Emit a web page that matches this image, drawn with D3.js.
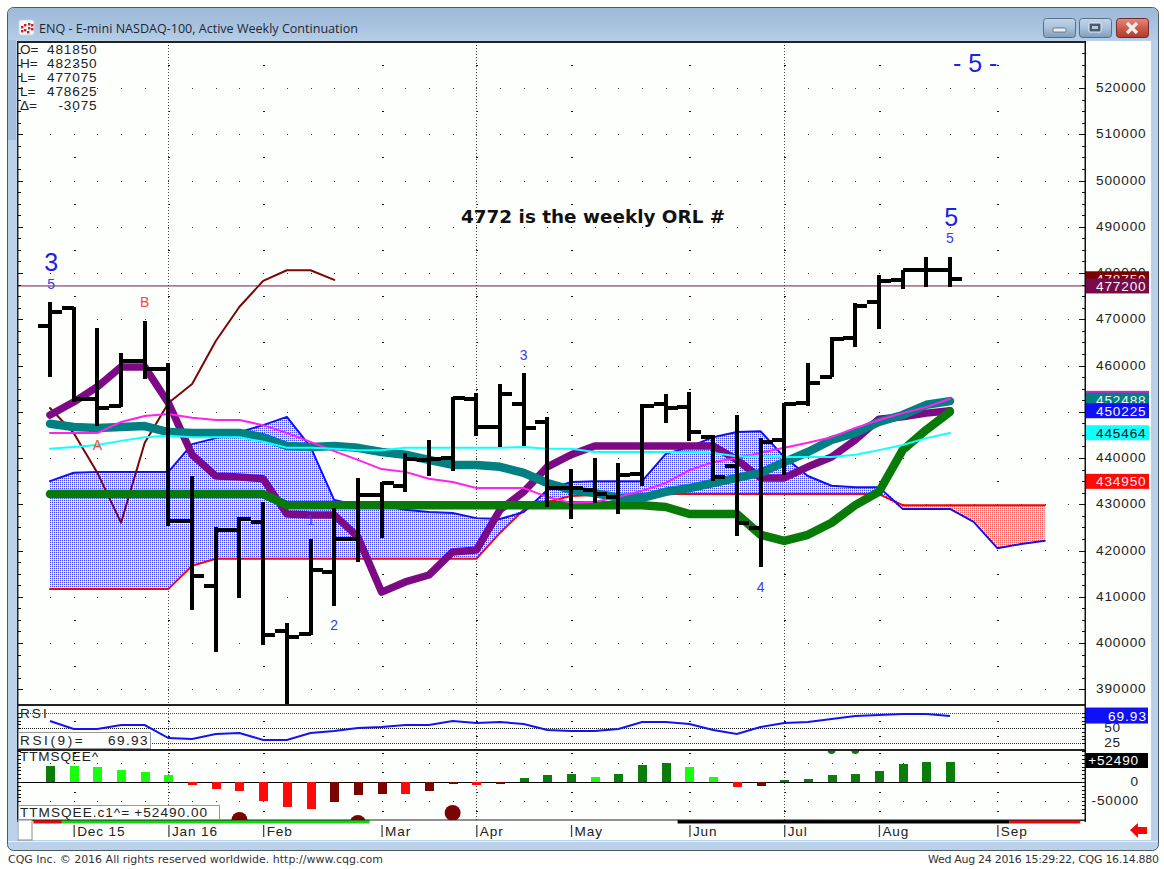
<!DOCTYPE html>
<html><head><meta charset="utf-8">
<script src="https://cdn.jsdelivr.net/npm/d3@7/dist/d3.min.js"></script>
<style>html,body{margin:0;padding:0;background:#fff;overflow:hidden}svg{display:block}
text{font-family:"Liberation Sans",Arial,sans-serif}</style></head><body>
<svg id="c" width="1164" height="869"></svg>
<script>
// ---------- data (prices in index points; quoted price = points x 100) ----------
const opens =[4685,4724,4528,4512,4610,4592,4264,4123,4244,4262,4026,4020,4154,4225,4320,4340,4396,4400,4528,4467,4517,4478,4335,4331,4316,4365,4517,4510,4445,4383,4249,4439,4519,4575,4660,4737,4785,4806,4806];
const highs =[4737,4727,4681,4627,4696,4605,4361,4251,4272,4305,4043,4225,4292,4357,4348,4411,4439,4532,4541,4560,4584,4489,4376,4400,4389,4517,4538,4543,4450,4493,4443,4519,4605,4662,4735,4796,4806,4835,4835];
const lows  =[4575,4521,4469,4510,4571,4253,4071,3981,4097,3996,3860,4017,4080,4175,4227,4327,4361,4372,4448,4424,4426,4294,4268,4303,4279,4340,4476,4437,4350,4231,4164,4363,4512,4575,4640,4679,4765,4770,4770];
const closes=[4716,4528,4508,4610,4592,4264,4145,4244,4268,4017,4013,4158,4225,4320,4346,4398,4398,4530,4467,4538,4465,4335,4335,4322,4363,4512,4508,4456,4359,4260,4435,4517,4562,4657,4729,4783,4806,4806,4787];
const purpleMA=[4493,4521,4554,4597,4597,4519,4407,4361,4359,4355,4279,4277,4277,4229,4110,4132,4147,4197,4201,4288,4327,4381,4407,4426,4426,4426,4426,4426,4426,4396,4357,4357,4381,4402,4439,4484,4489,4497,4502];
const tealMA=[4474,4467,4465,4467,4469,4456,4454,4454,4454,4445,4426,4424,4426,4422,4413,4407,4396,4385,4385,4381,4368,4346,4331,4324,4314,4314,4327,4335,4346,4357,4368,4391,4413,4439,4454,4478,4493,4515,4523];
const magentaMA=[4454,4454,4454,4478,4491,4495,4487,4482,4482,4471,4454,4435,4415,4396,4376,4370,4355,4348,4335,4335,4335,4316,4303,4305,4316,4329,4346,4374,4391,4400,4411,4422,4433,4445,4465,4482,4497,4510,4528];
const cyanMA=[4420,4424,4428,4437,4445,4448,4445,4445,4445,4435,4422,4422,4420,4417,4417,4422,4422,4422,4422,4422,4424,4420,4420,4413,4413,4413,4413,4413,4411,4404,4404,4402,4402,4402,4407,4417,4428,4443,4454];
const greenMA=[4322,4322,4322,4322,4322,4322,4322,4322,4322,4322,4298,4298,4298,4298,4298,4298,4298,4298,4298,4298,4298,4298,4298,4298,4298,4298,4294,4279,4279,4279,4234,4221,4234,4260,4298,4327,4417,4461,4500];
const spanBlue=[4350,4368,4370,4370,4370,4370,4430,4443,4456,4471,4489,4424,4309,4298,4298,4288,4283,4281,4270,4268,4283,4331,4348,4350,4350,4350,4409,4424,4445,4456,4458,4402,4361,4340,4337,4337,4290,4290,4290,4262,4205,4214,4221];
const spanRed=[4117,4117,4117,4117,4117,4117,4167,4182,4182,4182,4182,4182,4182,4182,4182,4182,4182,4182,4182,4238,4288,4305,4318,4320,4320,4322,4322,4322,4322,4322,4322,4322,4322,4322,4322,4322,4298,4298,4298,4298,4298,4298,4298];
const maroonLine=[4508,4454,4368,4260,4433,4519,4560,4653,4727,4783,4806,4806,4785];
const orlLevel=4772;
const rsi=[61.7,48.3,48.3,55,55,33.3,31.7,40,41.7,30,30,41.7,45,50,51.7,55,55,61.7,58.3,60,56.7,46.7,45,45,48.3,60,60,56.7,46.7,40,51.7,58.3,60,65,70,71.7,73.3,73.3,69.93];
const ttm=[40500,40500,38000,32000,26000,18000,-7000,-18000,-23300,-48000,-64600,-70000,-51700,-34500,-32000,-32000,-24000,-4300,-7700,-4300,9500,18000,21500,13000,21500,43000,49000,38000,13000,-13000,-10300,4300,7000,18000,20700,29200,46500,51700,52490];
const ttmState=[0,1,1,1,1,1,2,2,2,2,2,2,3,3,3,2,3,3,2,3,0,0,0,1,0,0,0,1,1,2,3,0,0,0,0,0,0,0,0];
const squeezeIdxRed=[8,13,17], squeezeValRed=[-98000,-106000,-80000];
const squeezeIdxGreen=[33,34], squeezeValGreen=[82700,82700];
const priceTicks=[5200,5100,5000,4900,4800,4700,4600,4500,4400,4300,4200,4100,4000,3900];
const monthIdx=[1,5,9,14,18,22,27,31,35,40];
const monthNames=["Dec 15","Jan 16","Feb","Mar","Apr","May","Jun","Jul","Aug","Sep"];
const quarterIdx=[5,18,31];
const readoutLabels=["O=","H=","L=","L=","Δ="];
const readoutValues=["481850","482350","477075","478625","-3075"];
const tagValues=[4787.5,4772,4529,4524.88,4502.25,4454.64,4349.5];
const tagText=["478750","477200","","452488","450225","445464","434950"];
const stripEdges=[-0.7,0.5,13.5,26.5,40.5,43.5];
const stripKinds=[0,1,2,3,0];
const bigText=["3","5","- 5 -"], bigIdx=[0.05,38.05,39.06], bigPrice=[4804,4902,5235];
const waveText=["5","5","2","1","3","4"], waveIdx=[0.05,38,12,11,20,30], wavePrice=[4765,4865,4028,4255,4612,4110];
const abText=["A","B"], abIdx=[2,4], abPrice=[4417,4727];
const noteText="4772 is the weekly ORL #", noteIdx=22.93, notePrice=4908;
const titleText="ENQ - E-mini NASDAQ-100, Active Weekly Continuation";
const footLeft="CQG Inc. © 2016 All rights reserved worldwide. http://www.cqg.com";
const footRight="Wed Aug 24 2016 15:29:22, CQG 16.14.880";

// ---------- layout & scales ----------
const L=18,R=1085,mainTop=42,mainBot=704,rsiTop=705,rsiBot=749,ttmTop=750,ttmBot=820;
const x=d3.scaleLinear().domain([0,38]).range([50,950]);
const y=d3.scaleLinear().domain([5200,3900]).range([88,689.25]);
const yR=d3.scaleLinear().domain([75,25]).range([713,743]);
const yT=d3.scaleLinear().domain([0,52490]).range([782,761.7]);
const allIdx=d3.range(0,44);
const svg=d3.select("#c");
const defs=svg.append("defs");
function grad(id,stops){const g=defs.append("linearGradient").attr("id",id).attr("x1",0).attr("y1",0).attr("x2",0).attr("y2",1);
 stops.forEach(s=>g.append("stop").attr("offset",s[0]).attr("stop-color",s[1]));}
grad("title",[[0,"#9db9d6"],[0.6,"#a9c4e0"],[1,"#b5cde6"]]);
grad("btn",[[0,"#c3d6ea"],[0.5,"#a8c0da"],[1,"#7f9dbc"]]);
grad("cls",[[0,"#e58a7c"],[0.5,"#cc5b4b"],[1,"#b03a2c"]]);
function hatch(id,a,b){const p=defs.append("pattern").attr("id",id).attr("patternUnits","userSpaceOnUse").attr("width",2).attr("height",2);
 p.append("rect").attr("width",2).attr("height",2).attr("fill","#fff");
 p.append("rect").attr("x",1).attr("y",0).attr("width",1).attr("height",1).attr("fill",b);
 p.append("rect").attr("x",0).attr("y",1).attr("width",1).attr("height",1).attr("fill",b);
 p.append("rect").attr("x",0).attr("y",0).attr("width",1).attr("height",1).attr("fill",a);}
hatch("hb","#4646ff","#d8d8ff");hatch("hr","#ff5a5a","#ffdcdc");
function clip(id,a,b){defs.append("clipPath").attr("id",id).append("rect").attr("x",L).attr("y",a).attr("width",R-L).attr("height",b-a);}
clip("cm",mainTop,mainBot);clip("cr",rsiTop,rsiBot);clip("ct",ttmTop,ttmBot);

// ---------- window chrome ----------
svg.append("rect").attr("x",7.5).attr("y",7.5).attr("width",1151).attr("height",843).attr("rx",6).attr("fill","#b9d2ea").attr("stroke","#4a5a60");
svg.append("path").attr("d","M8,40V14a6,6 0 0 1 6,-6H1152a6,6 0 0 1 6,6V40Z").attr("fill","url(#title)");
svg.append("rect").attr("x",8).attr("y",40).attr("width",8).attr("height",100).attr("fill","#a3bfdc");
svg.append("rect").attr("x",17).attr("y",41).attr("width",1134).attr("height",799).attr("fill","#fdfffd");
// icon
svg.append("rect").attr("x",19).attr("y",20).attr("width",15).attr("height",15).attr("rx",2).attr("fill","#fbf6f6").attr("stroke","#c9d3de");
[[21,26],[24,24],[24,29],[28,23],[28,27],[31,24],[31,28],[21,30],[27,31]].forEach(p=>svg.append("rect").attr("x",p[0]).attr("y",p[1]).attr("width",2.4).attr("height",2.4).attr("fill","#c2202c"));
svg.append("text").attr("x",39).attr("y",33).attr("font-size",12.55).attr("fill","#1d2733").style("font-family","'Open Sans'").text(titleText);
// buttons
[[1043,"btn"],[1079,"btn"],[1116,"cls"]].forEach(b=>svg.append("rect").attr("x",b[0]+.5).attr("y",18.5).attr("width",32).attr("height",19).attr("rx",3).attr("fill",`url(#${b[1]})`).attr("stroke",b[1]=="cls"?"#6d2a2a":"#56708c"));
svg.append("rect").attr("x",1053).attr("y",28).attr("width",13).attr("height",4).attr("rx",1).attr("fill","#e8edf3").attr("stroke","#4a5a6e").attr("stroke-width",.7);
svg.append("rect").attr("x",1089).attr("y",23).attr("width",12).attr("height",9).attr("rx",1).attr("fill","#4a5a6e").attr("stroke","#e8edf3");
svg.append("rect").attr("x",1092).attr("y",26).attr("width",6).attr("height",3).attr("fill","#b6c8dc");
svg.append("path").attr("d","M1127,23L1137,33M1137,23L1127,33").attr("stroke","#f2ecec").attr("stroke-width",3.4);

// ---------- grid ----------
const grid=svg.append("g");
function dotRows(vals,scale,idx,w,col){vals.forEach(v=>idx.forEach(i=>grid.append("rect").attr("x",Math.round(x(i))).attr("y",Math.round(scale(v))).attr("width",w).attr("height",1).attr("fill",col)));}
dotRows(priceTicks,y,allIdx,1,"#333");
dotRows([5250,5150,5050,4950,4850,4750,4650,4550,4450,4350,4250,4150,4050,3950],y,monthIdx,2,"#111");
dotRows([62.5,37.5],yR,monthIdx,2,"#111");
dotRows([50000,-50000],yT,allIdx,1,"#333");
dotRows([75000,25000,-25000,-75000],yT,monthIdx,2,"#111");
quarterIdx.forEach(i=>grid.append("line").attr("x1",Math.round(x(i))+.5).attr("x2",Math.round(x(i))+.5).attr("y1",mainTop).attr("y2",ttmBot).attr("stroke","#444").attr("stroke-dasharray","1 2"));

// ---------- main pane ----------
const main=svg.append("g").attr("clip-path","url(#cm)");
const ln=d3.line().x((d,i)=>x(i)).y(d=>y(d));
const pts=spanBlue.map((b,i)=>({b,r:spanRed[i],i}));
const aBlue=d3.area().x(d=>x(d.i)).y0(d=>y(d.r)).y1(d=>y(Math.max(d.b,d.r)));
const aRed=d3.area().x(d=>x(d.i)).y0(d=>y(d.r)).y1(d=>y(Math.min(d.b,d.r)));
main.append("path").attr("d",aBlue(pts)).attr("fill","url(#hb)");
main.append("path").attr("d",aRed(pts)).attr("fill","url(#hr)");
function stroke(data,col,w){main.append("path").attr("d",ln(data)).attr("fill","none").attr("stroke",col).attr("stroke-width",w).attr("stroke-linejoin","round").attr("stroke-linecap","round");}
main.append("line").attr("x1",L).attr("x2",R).attr("y1",y(orlLevel)).attr("y2",y(orlLevel)).attr("stroke","#7a1846").attr("stroke-width",1);
stroke(spanRed,"#f00808",2);
stroke(spanBlue,"#1010f0",2);
stroke(maroonLine,"#7a0606",2);
stroke(purpleMA,"#7d0a85",7.5);
stroke(greenMA,"#077a07",8.5);
stroke(tealMA,"#008080",8.5);
stroke(magentaMA,"#ff22ee",2);
stroke(cyanMA,"#10ffff",2);
// OHLC bars
const bars=main.append("g").attr("shape-rendering","crispEdges").attr("fill","#000");
opens.forEach((o,i)=>{const cx=Math.round(x(i));
 bars.append("rect").attr("x",cx-2).attr("y",y(highs[i])).attr("width",4).attr("height",y(lows[i])-y(highs[i]));
 bars.append("rect").attr("x",cx-12).attr("y",Math.round(y(o))-2).attr("width",12).attr("height",4);
 bars.append("rect").attr("x",cx).attr("y",Math.round(y(closes[i]))-2).attr("width",12).attr("height",4);});
// annotations
function ann(ts,is,ps,size,col){ts.forEach((t,k)=>main.append("text").attr("x",x(is[k])).attr("y",y(ps[k])).attr("text-anchor","middle").attr("font-size",size).attr("fill",col).text(t));}
ann(bigText,bigIdx,bigPrice,25,"#2020e8");
ann(waveText,waveIdx,wavePrice,14,"#3a3af0");
ann(abText,abIdx,abPrice,14,"#f04a3a");
main.append("text").attr("x",x(noteIdx)).attr("y",y(notePrice)).attr("text-anchor","middle").attr("font-size",18.4).attr("font-weight","bold").style("font-family","'DejaVu Sans'").attr("fill","#111").text(noteText);

// ---------- RSI pane ----------
const rp=svg.append("g").attr("clip-path","url(#cr)");
[[75,"#e81010"],[50,"#111"],[25,"#1818e8"]].forEach(a=>rp.append("line").attr("x1",L).attr("x2",R).attr("y1",Math.round(yR(a[0]))+.5).attr("y2",Math.round(yR(a[0]))+.5).attr("stroke",a[1]).attr("stroke-dasharray","1 1"));
rp.append("path").attr("d",d3.line().x((d,i)=>x(i)).y(d=>yR(d))(rsi)).attr("fill","none").attr("stroke","#1414f0").attr("stroke-width",2);

// ---------- TTM pane ----------
const tp=svg.append("g").attr("clip-path","url(#ct)");
const tcol=d3.scaleOrdinal().domain([0,1,2,3]).range(["#0a7d0a","#18ff0c","#ff0a0a","#7a0404"]);
tp.append("line").attr("x1",L).attr("x2",R).attr("y1",yT(0)+.5).attr("y2",yT(0)+.5).attr("stroke","#000").attr("stroke-width",1);
tp.selectAll("rect.h").data(ttm).join("rect").attr("class","h").attr("shape-rendering","crispEdges").attr("x",(d,i)=>Math.round(x(i))-4).attr("width",9)
 .attr("y",d=>Math.min(yT(d),yT(0))).attr("height",d=>Math.abs(yT(d)-yT(0))).attr("fill",(d,i)=>tcol(ttmState[i]));
squeezeIdxRed.forEach((ix,k)=>tp.append("circle").attr("cx",x(ix)).attr("cy",yT(squeezeValRed[k])).attr("r",8).attr("fill","#7a0404"));
squeezeIdxGreen.forEach((ix,k)=>tp.append("circle").attr("cx",x(ix)).attr("cy",yT(squeezeValGreen[k])).attr("r",4).attr("fill","#0a7d0a"));

// ---------- pane frames ----------
[[41,2],[mainBot,2],[rsiBot,2],[ttmBot-.5,1.5]].forEach(f=>svg.append("rect").attr("x",L-1).attr("y",f[0]).attr("width",R-L+2).attr("height",f[1]).attr("fill","#222"));
svg.append("rect").attr("x",L-1).attr("y",41).attr("width",1.5).attr("height",781).attr("fill","#222");
svg.append("rect").attr("x",R-.5).attr("y",41).attr("width",1.5).attr("height",781).attr("fill","#111");

// ---------- axes ----------
function inner(scale,vals,size,xp,dir){const a=(dir<0?d3.axisLeft:d3.axisRight)(scale).tickValues(vals).tickSize(size).tickFormat("");
 const g=svg.append("g").attr("transform",`translate(${xp},0)`).call(a);g.select(".domain").remove();g.selectAll("line").attr("stroke","#111").attr("shape-rendering","crispEdges");}
const minor=d3.range(3900,5276,25);
inner(y,minor,3,R,-1);inner(y,priceTicks,6,R,-1);inner(y,minor,3,L,1);inner(y,priceTicks,5,L,1);
inner(yR,d3.range(25,80,6.25),3,R,-1);inner(yR,d3.range(25,80,6.25),3,L,1);
inner(yT,d3.range(-80000,85000,10000),3,R,-1);inner(yT,d3.range(-80000,85000,10000),3,L,1);
function labels(axis,xp){const g=svg.append("g").attr("transform",`translate(${xp},0)`).call(axis);
 g.select(".domain").remove();g.selectAll("line").remove();
 g.selectAll("text").attr("y",-0.8).attr("font-size",13.6).attr("letter-spacing",.85).attr("fill","#222").style("font-family","'Liberation Sans'");return g;}
labels(d3.axisRight(y).tickValues(priceTicks).tickSize(0).tickPadding(11).tickFormat(d=>String(d*100)),R);
labels(d3.axisLeft(yR).tickValues([50,25]).tickSize(0).tickPadding(0).tickFormat(d=>d),1121);
labels(d3.axisLeft(yT).tickValues([0,-50000]).tickSize(0).tickPadding(0).tickFormat(d=>d==0?"0":"-50000"),1139);
// time axis
const tg=svg.append("g").attr("transform","translate(0,825)").call(d3.axisBottom(x).tickValues(monthIdx).tickSize(12).tickFormat((d,i)=>monthNames[i]));
tg.select(".domain").remove();tg.selectAll("line").attr("stroke","#444").attr("stroke-width",1.3);
tg.selectAll("text").attr("text-anchor","start").attr("x",3).attr("y",-2).attr("dy","0.95em").attr("font-size",13.6).attr("letter-spacing",.85).attr("fill","#222").style("font-family","'Liberation Sans'");
// strip
const stripCol=d3.scaleOrdinal().domain([0,1,2,3]).range(["#e80808","#10d810","#ffffff","#000000"]);
stripKinds.forEach((k,j)=>svg.append("rect").attr("x",x(stripEdges[j])).attr("y",820.5).attr("width",x(stripEdges[j+1])-x(stripEdges[j])).attr("height",3).attr("fill",stripCol(k)));

// ---------- value tags ----------
const tagFill=["#7b0000","#780a4a","#cf22cf","#008080","#1010f8","#10ffff","#ff0808"];
tagValues.forEach((v,k)=>{const cy=y(v);
 svg.append("rect").attr("x",R+1).attr("y",cy-7.5).attr("width",63).attr("height",15).attr("fill",tagFill[k]);
 if(tagText[k])svg.append("text").attr("x",1096).attr("y",cy+5).attr("font-size",13.6).attr("letter-spacing",.85).attr("fill",k==5?"#111":"#f4f4f4").text(tagText[k]);});
svg.append("rect").attr("x",R+1).attr("y",yR(rsi[38])-8.5).attr("width",62).attr("height",16).attr("fill","#1010f8");
svg.append("text").attr("x",1147).attr("y",yR(rsi[38])+4.5).attr("text-anchor","end").attr("font-size",13.6).attr("letter-spacing",1).attr("fill","#fff").text(d3.format(".2f")(rsi[38]));
svg.append("rect").attr("x",R+1).attr("y",753).attr("width",62).attr("height",15).attr("fill","#000");
svg.append("text").attr("x",1139).attr("y",765).attr("text-anchor","end").attr("font-size",13.6).attr("letter-spacing",.85).attr("fill","#fff").text("+"+ttm[38]);

// ---------- readouts ----------
readoutLabels.forEach((t,k)=>{svg.append("text").attr("x",20).attr("y",54+14*k).attr("font-size",13.6).attr("fill","#222").text(t);
 svg.append("text").attr("x",97.5).attr("y",54+14*k).attr("text-anchor","end").attr("font-size",13.6).attr("letter-spacing",.85).attr("fill","#222").text(readoutValues[k]);});
svg.append("text").attr("x",20).attr("y",718).attr("font-size",13.6).attr("letter-spacing",2).attr("fill","#222").text("RSI");
svg.append("text").attr("x",20).attr("y",761).attr("font-size",13.6).attr("letter-spacing",.85).attr("fill","#222").text("TTMSQEE^");
svg.append("rect").attr("x",18.5).attr("y",732.5).attr("width",132).attr("height",16).attr("fill","#fdfffd").attr("stroke","#999");
svg.append("text").attr("x",20).attr("y",745).attr("font-size",13.6).attr("letter-spacing",2.6).attr("fill","#222").text("RSI(9)=");
svg.append("text").attr("x",149).attr("y",745).attr("text-anchor","end").attr("font-size",13.6).attr("letter-spacing",1.4).attr("fill","#222").text(d3.format(".2f")(rsi[38]));
svg.append("rect").attr("x",18.5).attr("y",805.5).attr("width",201).attr("height",14).attr("fill","#fdfffd").attr("stroke","#999");
svg.append("text").attr("x",20).attr("y",817).attr("font-size",13.6).attr("letter-spacing",1).attr("fill","#222").text("TTMSQEE.c1^=");
svg.append("text").attr("x",208).attr("y",817).attr("text-anchor","end").attr("font-size",13.6).attr("letter-spacing",1).attr("fill","#222").text("+"+d3.format(".2f")(ttm[38]));
svg.append("rect").attr("x",18).attr("y",820).attr("width",14).attr("height",20).attr("fill","#fdfffd").attr("stroke","#8a8a8a");
// scroll arrow
svg.append("path").attr("d","M1130,830L1138,823V827H1147V834H1138V838Z").attr("fill","#f20808");
// window lines & footer
svg.append("rect").attr("x",8).attr("y",841).attr("width",1150).attr("height",1).attr("fill","#e8f0f8");
svg.append("text").attr("x",8).attr("y",863).attr("font-size",11).style("font-family","'DejaVu Sans'").attr("fill","#333").attr("textLength",375).text(footLeft);
svg.append("text").attr("x",928).attr("y",863).attr("font-size",11).style("font-family","'DejaVu Sans'").attr("fill","#333").attr("textLength",231).text(footRight);
</script></body></html>
